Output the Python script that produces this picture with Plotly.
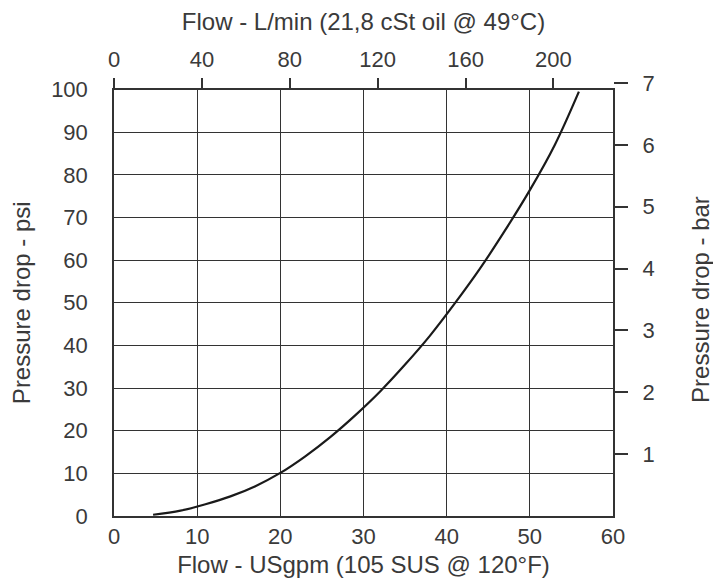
import plotly.graph_objects as go

# Curve: flow (USgpm) vs pressure drop (psi)
flow_gpm = [4.7, 8, 11, 14, 17, 20, 23, 26, 29, 32, 35, 38, 41, 44, 47, 50, 53, 55.9]
dp_psi = [0.3, 1.25, 2.75, 4.6, 7.0, 10.1, 14.0, 18.5, 23.6, 29.2, 35.5, 42.3, 49.9, 58.0, 66.9, 76.4, 87.0, 99.5]

x_ticks_gpm = [0, 10, 20, 30, 40, 50, 60]
y_ticks_psi = [0, 10, 20, 30, 40, 50, 60, 70, 80, 90, 100]
x2_ticks_lpm = [0, 40, 80, 120, 160, 200]
y2_ticks_bar = [1, 2, 3, 4, 5, 6, 7]

GPM_TO_LPM = 3.78541
PSI_PER_BAR = 14.5038

FONT = "Liberation Sans"
TXT = "#3a3a3a"
GRID = "#333333"

fig = go.Figure()
fig.add_trace(go.Scatter(x=flow_gpm, y=dp_psi, mode="lines",
                         line=dict(color="#1a1a1a", width=2.2, shape="spline", smoothing=1.0),
                         showlegend=False, hoverinfo="skip"))
# invisible helper trace for secondary axes
fig.add_trace(go.Scatter(x=[None], y=[None], xaxis="x2", yaxis="y2",
                         showlegend=False, hoverinfo="skip"))

# page body has an 8px margin: work in page pixels, then offset
OFF = 8
W, H = 721 - OFF, 585 - OFF
left, right, bottom = 114 - OFF, 612.7 - OFF, 516 - OFF
top_psi = 90.0 - OFF
ymax_psi = 100.0
y2max_bar = 7.0
px_per_psi = (bottom - top_psi) / ymax_psi
top_bar = bottom - y2max_bar * PSI_PER_BAR * px_per_psi
plot_h = bottom - top_bar
ydom_top = (bottom - top_psi) / plot_h

fig.update_layout(
    width=W, height=H,
    margin=dict(l=left, r=W - right, t=top_bar, b=H - bottom, pad=0, autoexpand=False),
    plot_bgcolor="rgba(0,0,0,0)", paper_bgcolor="white",
    font=dict(family=FONT, size=22, color=TXT),
    xaxis=dict(range=[0, 60], tickvals=x_ticks_gpm, showgrid=True, gridcolor=GRID, gridwidth=1.3,
               showline=True, linecolor=GRID, linewidth=1.5, mirror=True, zeroline=False,
               ticks="",
               title=dict(text="Flow - USgpm (105 SUS @ 120°F)", font=dict(size=24), standoff=8),
               domain=[0, 1], anchor="y", fixedrange=True),
    yaxis=dict(range=[0, ymax_psi], tickvals=y_ticks_psi, showgrid=True, gridcolor=GRID, gridwidth=1.3,
               showline=True, linecolor=GRID, linewidth=1.5, mirror=True, zeroline=False,
               ticks="outside", ticklen=20, tickcolor="rgba(0,0,0,0)",
               title=dict(text="Pressure drop - psi", font=dict(size=24), standoff=14),
               domain=[0, ydom_top], anchor="x", fixedrange=True),
    xaxis2=dict(range=[0, 60 * GPM_TO_LPM], tickvals=x2_ticks_lpm, overlaying="x", side="top",
                anchor="y", showgrid=False, zeroline=False, showline=False,
                ticks="outside", ticklen=11, tickwidth=1.5, tickcolor=GRID,
                ticklabelstandoff=2,
                title=dict(text="Flow - L/min (21,8 cSt oil @ 49°C)", font=dict(size=24), standoff=16),
                fixedrange=True),
    yaxis2=dict(range=[0, y2max_bar], tickvals=y2_ticks_bar, side="right", anchor="x",
                domain=[0, 1], showgrid=False, zeroline=False, showline=False,
                ticks="outside", ticklen=14, tickwidth=1.5, tickcolor=GRID,
                ticklabelstandoff=10,
                title=dict(text="Pressure drop - bar", font=dict(size=24), standoff=38),
                fixedrange=True),
)

fig.write_html("out.html")
